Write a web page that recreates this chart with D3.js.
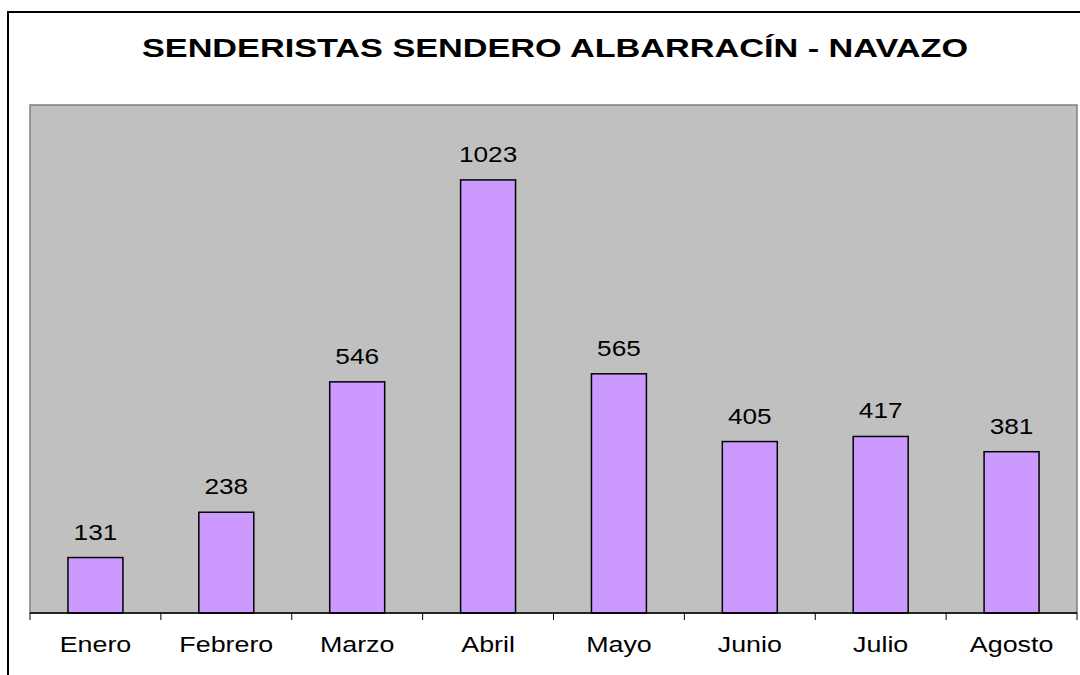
<!DOCTYPE html>
<html>
<head>
	<title>Senderistas</title>
	<script src="https://d3js.org/d3.v7.min.js" charset="utf-8"></script>
	<style>
		body { margin: 0; background: #fff; }
		text { font-family: Arial, "Liberation Sans", sans-serif; fill: #000; }
	</style>
</head>
<body>
	<svg width="1080" height="675"></svg>
	<script>
		var months = ['Enero', 'Febrero', 'Marzo', 'Abril', 'Mayo', 'Junio', 'Julio', 'Agosto'];
		var hikers = [131, 238, 546, 1023, 565, 405, 417, 381];
		var yMax = 1200;
		var title = 'SENDERISTAS SENDERO ALBARRACÍN - NAVAZO';

		const plot = { left: 30, top: 105, right: 1077, bottom: 613 };

		var svg = d3.select('svg');

		// outer chart frame (cropped on right and bottom)
		svg.append('rect')
			.attr('x', 8).attr('y', 12)
			.attr('width', 1100).attr('height', 700)
			.attr('fill', '#fff')
			.attr('stroke', '#000')
			.attr('stroke-width', 2);

		// title, stretched wide like the original
		svg.append('g')
			.attr('transform', 'translate(555, 57) scale(1.37, 1)')
			.append('text')
			.attr('text-anchor', 'middle')
			.style('font-size', '25px')
			.style('font-weight', 'bold')
			.text(title);

		const xScale = d3.scaleBand()
			.domain(months)
			.range([plot.left, plot.right])
			.paddingInner(0.58)
			.paddingOuter(0.29);

		const xEdges = d3.scaleLinear()
			.domain([0, months.length])
			.range([plot.left, plot.right]);

		const yScale = d3.scaleLinear()
			.domain([0, yMax])
			.range([plot.bottom, plot.top]);

		// plot area
		svg.append('rect')
			.attr('x', plot.left).attr('y', plot.top)
			.attr('width', plot.right - plot.left)
			.attr('height', plot.bottom - plot.top)
			.attr('fill', '#c0c0c0')
			.attr('stroke', '#808080')
			.attr('stroke-width', 1.5);

		// bars
		svg.selectAll('rect.bar')
			.data(hikers)
			.enter()
			.append('rect')
			.attr('class', 'bar')
			.attr('x', (d, i) => xScale(months[i]))
			.attr('y', (d) => yScale(d))
			.attr('width', xScale.bandwidth())
			.attr('height', (d) => yScale(0) - yScale(d))
			.attr('fill', '#cc99ff')
			.attr('stroke', '#000')
			.attr('stroke-width', 1.5);

		// value labels
		svg.selectAll('g.val')
			.data(hikers)
			.enter()
			.append('g')
			.attr('class', 'val')
			.attr('transform', (d, i) => `translate(${xScale(months[i]) + xScale.bandwidth() / 2}, ${yScale(d) - 18}) scale(1.22, 1)`)
			.append('text')
			.attr('text-anchor', 'middle')
			.style('font-size', '21.5px')
			.text((d) => d);

		// x axis line and ticks between categories
		svg.append('line')
			.attr('x1', plot.left).attr('x2', plot.right)
			.attr('y1', plot.bottom).attr('y2', plot.bottom)
			.attr('stroke', '#000')
			.attr('stroke-width', 1.5);

		svg.selectAll('line.tick')
			.data(d3.range(months.length + 1))
			.enter()
			.append('line')
			.attr('class', 'tick')
			.attr('x1', (d) => xEdges(d)).attr('x2', (d) => xEdges(d))
			.attr('y1', plot.bottom).attr('y2', plot.bottom + 7)
			.attr('stroke', '#000')
			.attr('stroke-width', 1);

		// category labels
		svg.selectAll('g.cat')
			.data(months)
			.enter()
			.append('g')
			.attr('class', 'cat')
			.attr('transform', (d) => `translate(${xScale(d) + xScale.bandwidth() / 2}, 652) scale(1.22, 1)`)
			.append('text')
			.attr('text-anchor', 'middle')
			.style('font-size', '22px')
			.text((d) => d);
	</script>
</body>
</html>
